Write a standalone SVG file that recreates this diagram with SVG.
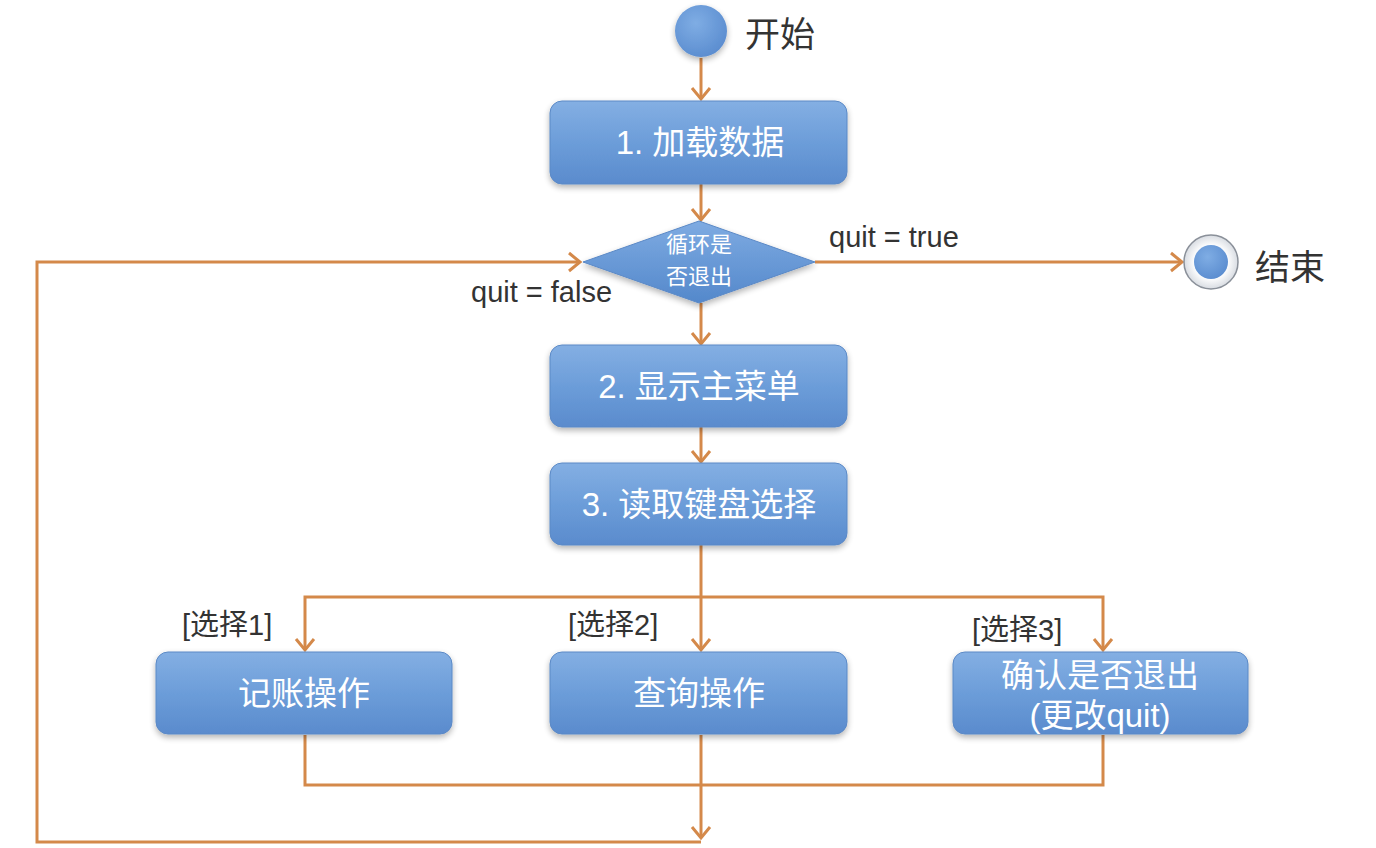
<svg xmlns="http://www.w3.org/2000/svg" width="1376" height="848" viewBox="0 0 1376 848">
<defs>
<linearGradient id="boxg" x1="0" y1="0" x2="0" y2="1">
<stop offset="0" stop-color="#84AFE3"/>
<stop offset="0.5" stop-color="#6C9DD9"/>
<stop offset="1" stop-color="#5A8BCD"/>
</linearGradient>
<linearGradient id="diag" x1="0" y1="0" x2="0" y2="1">
<stop offset="0" stop-color="#7EABE2"/>
<stop offset="1" stop-color="#5488CB"/>
</linearGradient>
<radialGradient id="circg" cx="0.4" cy="0.35" r="0.7">
<stop offset="0" stop-color="#7FADE4"/>
<stop offset="1" stop-color="#5A8CCF"/>
</radialGradient>
<radialGradient id="ringg" cx="0.5" cy="0.5" r="0.5">
<stop offset="0.6" stop-color="#FFFFFF"/>
<stop offset="1" stop-color="#D8DCE2"/>
</radialGradient>
<filter id="sh" x="-10%" y="-10%" width="120%" height="130%">
<feGaussianBlur in="SourceAlpha" stdDeviation="3"/>
<feOffset dx="0" dy="3" result="b"/>
<feComponentTransfer><feFuncA type="linear" slope="0.3"/></feComponentTransfer>
<feMerge><feMergeNode/><feMergeNode in="SourceGraphic"/></feMerge>
</filter>
<marker id="arr" markerWidth="24" markerHeight="24" refX="12" refY="12" orient="auto" markerUnits="userSpaceOnUse">
<path d="M1,3 L12,12 L1,21" fill="none" stroke="#D4894A" stroke-width="3" stroke-linejoin="miter"/>
</marker>
<style>
.box{fill:url(#boxg);stroke:#5B89C6;stroke-width:1;filter:url(#sh)}
.bt{font-family:"Liberation Sans","Noto Sans CJK SC",sans-serif;font-size:33px;fill:#FFFFFF;text-anchor:middle}
.lbl{font-family:"Liberation Sans","Noto Sans CJK SC",sans-serif;font-size:29px;fill:#333333}
.big{font-family:"Liberation Sans","Noto Sans CJK SC",sans-serif;font-size:35px;fill:#333333}
.dt{font-family:"Noto Sans CJK SC",sans-serif;font-size:22px;fill:#FFFFFF;text-anchor:middle}
.con{fill:none;stroke:#D4894A;stroke-width:3}
</style>
</defs>
<rect width="1376" height="848" fill="#FFFFFF"/>
<g id="connectors">
<path class="con" d="M701,58 V99" marker-end="url(#arr)"/>
<path class="con" d="M701,184 V220" marker-end="url(#arr)"/>
<path class="con" d="M815,262 H1182" marker-end="url(#arr)"/>
<path class="con" d="M701,303 V344" marker-end="url(#arr)"/>
<path class="con" d="M701,427 V462" marker-end="url(#arr)"/>
<path class="con" d="M701,545 V650" marker-end="url(#arr)"/>
<path class="con" d="M701,597 H305 V650" marker-end="url(#arr)"/>
<path class="con" d="M701,597 H1103 V650" marker-end="url(#arr)"/>
<path class="con" d="M305,735 V785 H1103 V735"/>
<path class="con" d="M701,735 V838" marker-end="url(#arr)"/>
<path class="con" d="M701,842 H37 V262 H580" marker-end="url(#arr)"/>
</g>
<g id="start">
<circle cx="701" cy="31" r="26" fill="url(#circg)" filter="url(#sh)"/>
<text class="big" x="745" y="47">开始</text>
</g>
<g id="load">
<rect class="box" x="550" y="101" width="297" height="83" rx="12"/>
<text class="bt" x="700" y="154">1. 加载数据</text>
</g>
<g id="decision">
<polygon points="699,221 815,262 699,303 583,262" fill="url(#diag)" stroke="#5B89C6" stroke-width="1" filter="url(#sh)"/>
<text class="dt" x="699" y="252">循环是</text>
<text class="dt" x="699" y="284">否退出</text>
<text class="lbl" x="829" y="247">quit = true</text>
<text class="lbl" x="471" y="302">quit = false</text>
</g>
<g id="end">
<circle cx="1211" cy="262" r="27" fill="url(#ringg)" stroke="#8A9099" stroke-width="1.5"/>
<circle cx="1211" cy="262" r="17" fill="url(#circg)"/>
<text class="big" x="1255" y="280">结束</text>
</g>
<g id="menu">
<rect class="box" x="550" y="345" width="297" height="82" rx="12"/>
<text class="bt" x="699" y="398">2. 显示主菜单</text>
</g>
<g id="read">
<rect class="box" x="550" y="463" width="297" height="82" rx="12"/>
<text class="bt" x="699" y="516">3. 读取键盘选择</text>
</g>
<g id="opt1">
<text class="lbl" x="182" y="635">[选择1]</text>
<rect class="box" x="156" y="652" width="296" height="82" rx="12"/>
<text class="bt" x="304" y="705">记账操作</text>
</g>
<g id="opt2">
<text class="lbl" x="568" y="635">[选择2]</text>
<rect class="box" x="550" y="652" width="297" height="82" rx="12"/>
<text class="bt" x="699" y="705">查询操作</text>
</g>
<g id="opt3">
<text class="lbl" x="972" y="640">[选择3]</text>
<rect class="box" x="953" y="652" width="295" height="82" rx="12"/>
<text class="bt" x="1100" y="687">确认是否退出</text>
<text class="bt" x="1100" y="727">(更改quit)</text>
</g>
</svg>
